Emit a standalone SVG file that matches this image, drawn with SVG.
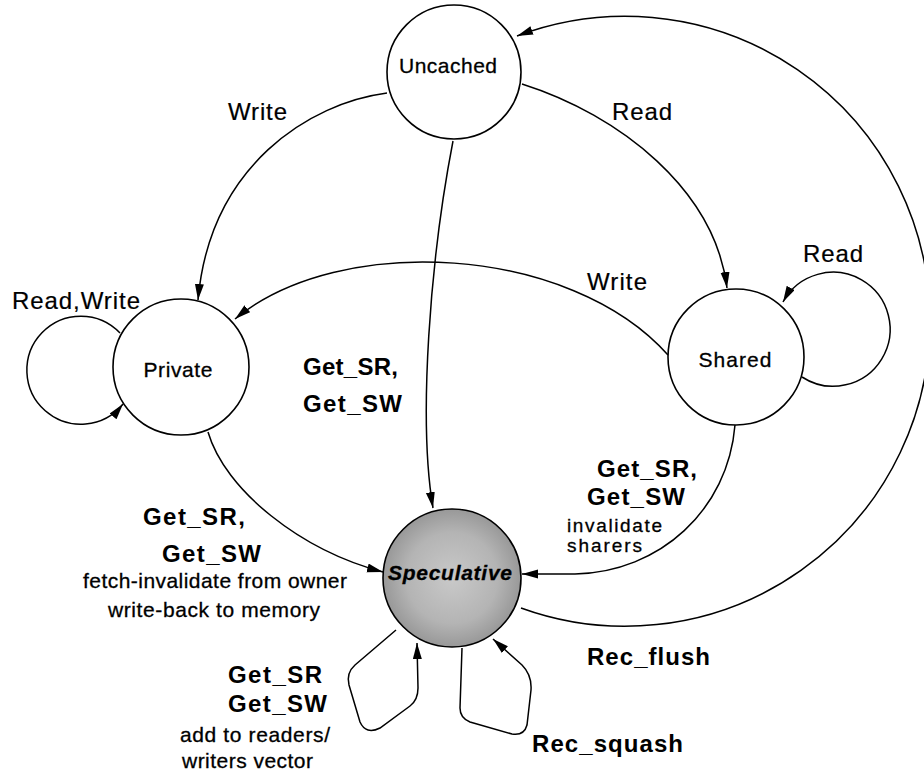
<svg xmlns="http://www.w3.org/2000/svg" width="924" height="776" viewBox="0 0 924 776">
<style>
.node{fill:#fff;stroke:#000;stroke-width:1.6}
.edge{fill:none;stroke:#000;stroke-width:1.5;marker-end:url(#ah)}
.loop{fill:none;stroke:#000;stroke-width:1.5;marker-end:url(#ah)}
text{font-family:"Liberation Sans",Arial,Helvetica,sans-serif;fill:#000}
.nl{font-size:21px;text-anchor:middle;stroke:#000;stroke-width:0.3}
.el{font-size:24px;stroke:#000;stroke-width:0.2}
.bl{font-size:24px;font-weight:bold}
.sl{font-size:21px;stroke:#000;stroke-width:0.3}
</style>
<defs>
<marker id="ah" markerUnits="userSpaceOnUse" markerWidth="17" markerHeight="10" refX="16" refY="4.5" orient="auto">
<path d="M0,0 L16,4.5 L0,9 z" fill="#000"/>
</marker>
<radialGradient id="spec" cx="0.5" cy="0.5" r="0.55">
<stop offset="0" stop-color="#c9c9c9"/>
<stop offset="0.6" stop-color="#b4b4b4"/>
<stop offset="1" stop-color="#909090"/>
</radialGradient>
</defs>

<g id="connectors">
<path class="edge" d="M387,93 C310,103 210,165 198,300"/>
<path class="edge" d="M522,84 C620,115 715,190 727,288"/>
<path class="edge" d="M453,141 C430,260 418,420 433,508"/>
<path class="edge" d="M668,355 C570,245 340,232 235,319"/>
<path class="loop" d="M120,333 A54,54 0 1 0 123,404"/>
<path class="loop" d="M802,377 A57,57 0 1 0 783,302"/>
<path class="edge" d="M208,432 C225,490 300,550 383,572"/>
<path class="edge" d="M735,425 C728,510 660,572 575,574 L522,574"/>
<path class="edge" d="M521,608 A305,305 0 1 0 517,36"/>
<path class="loop" d="M396,630 L355,665 Q346,673 349,685 L360,722 Q366,735 380,728 L410,706 Q418,700 418,688 L417,643"/>
<path class="loop" d="M462,648 L460,708 Q460,718 470,722 L512,734 Q524,736 527,725 L531,690 Q532,675 522,665 L493,639"/>
</g>

<g id="uncached">
<circle class="node" cx="454" cy="72" r="67"/>
<text class="nl" x="448" y="73" textLength="98">Uncached</text>
</g>
<g id="private">
<circle class="node" cx="181" cy="367" r="68"/>
<text class="nl" x="178" y="377" textLength="69">Private</text>
</g>
<g id="shared">
<circle class="node" cx="736" cy="357" r="68"/>
<text class="nl" x="735" y="367" textLength="73">Shared</text>
</g>
<g id="speculative">
<circle cx="452" cy="578" r="69" fill="url(#spec)" stroke="#000" stroke-width="1.6"/>
<text class="nl" x="450" y="580" textLength="124" style="font-weight:bold;font-style:italic">Speculative</text>
</g>

<g id="labels">
<text class="el" x="228" y="120" textLength="59">Write</text>
<text class="el" x="612" y="120" textLength="60">Read</text>
<text class="el" x="587" y="290" textLength="60">Write</text>
<text class="el" x="803" y="262" textLength="60">Read</text>
<text class="el" x="12" y="309" textLength="128">Read,Write</text>

<text class="bl" x="303" y="375" textLength="95">Get_SR,</text>
<text class="bl" x="303" y="412" textLength="99">Get_SW</text>

<text class="bl" x="143" y="525" textLength="102">Get_SR,</text>
<text class="bl" x="162" y="562" textLength="99">Get_SW</text>
<text class="sl" x="83" y="588" textLength="264">fetch-invalidate from owner</text>
<text class="sl" x="108" y="617" textLength="212">write-back to memory</text>

<text class="bl" x="597" y="477" textLength="100">Get_SR,</text>
<text class="bl" x="587" y="505" textLength="98">Get_SW</text>
<text class="sl" x="567" y="532" textLength="95" style="font-size:19px">invalidate</text>
<text class="sl" x="567" y="552" textLength="75" style="font-size:19px">sharers</text>

<text class="bl" x="587" y="665" textLength="123">Rec_flush</text>
<text class="bl" x="532" y="752" textLength="151">Rec_squash</text>

<text class="bl" x="228" y="683" textLength="94">Get_SR</text>
<text class="bl" x="228" y="712" textLength="99">Get_SW</text>
<text class="sl" x="180" y="742" textLength="150">add to readers/</text>
<text class="sl" x="182" y="768" textLength="131">writers vector</text>
</g>
</svg>
